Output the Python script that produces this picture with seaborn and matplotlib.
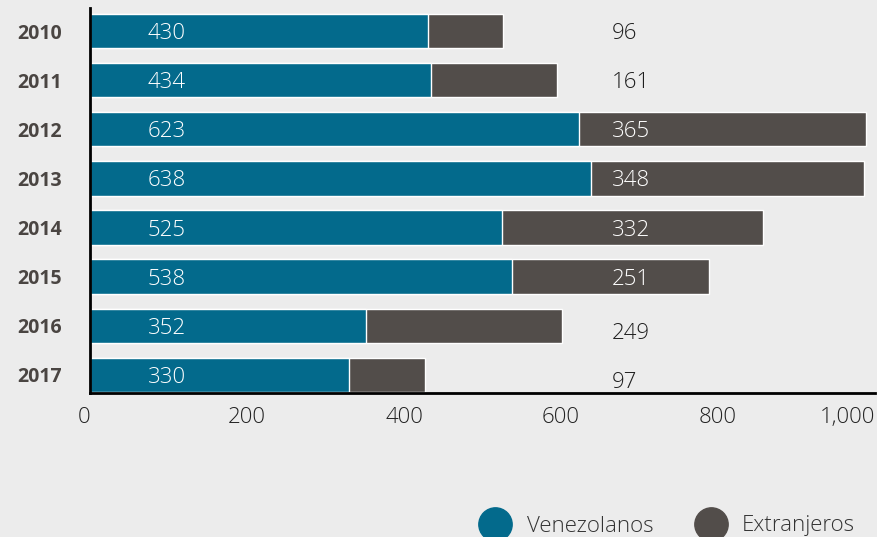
import matplotlib
matplotlib.use("Agg")
import matplotlib.pyplot as plt
from matplotlib.lines import Line2D
from matplotlib.ticker import FuncFormatter
import seaborn as sns

years = ["2010", "2011", "2012", "2013", "2014", "2015", "2016", "2017"]
venezolanos = [430, 434, 623, 638, 525, 538, 352, 330]
extranjeros = [96, 161, 365, 348, 332, 251, 249, 97]

TEAL = "#036a8c"
GRAY = "#524d4a"
BG = "#ececec"


def main():
    sns.set_style("white")
    plt.rcParams["font.family"] = ["Open Sans", "DejaVu Sans"]

    fig = plt.figure(figsize=(8.77, 5.37), dpi=100, facecolor=BG)
    ax = fig.add_axes([90 / 877, 144 / 537, 785 / 877, 385 / 537])
    ax.set_facecolor(BG)

    totals = [v + e for v, e in zip(venezolanos, extranjeros)]
    sns.barplot(x=totals, y=years, orient="h", color=GRAY, saturation=1,
                width=0.7, edgecolor="white", linewidth=1, ax=ax)
    sns.barplot(x=venezolanos, y=years, orient="h", color=TEAL, saturation=1,
                width=0.7, edgecolor="white", linewidth=1, ax=ax)

    for i, (v, e, t) in enumerate(zip(venezolanos, extranjeros, totals)):
        ax.text(98, i, str(v), ha="center", va="center_baseline",
                color="white", fontsize=16, fontweight="light")
        inside = t > 700
        ax.text(665, i + (0 if inside or i < 6 else 0.1), str(e), ha="left",
                va="center_baseline",
                color="white" if inside else "#1e1e1e",
                fontsize=16, fontweight="light")

    ax.set_xlim(0, 1000)
    ax.set_ylim(7.37, -0.47)
    ax.set_xticks([0, 200, 400, 600, 800, 1000])
    ax.xaxis.set_major_formatter(FuncFormatter(lambda x, _: f"{int(x):,}"))
    ax.tick_params(axis="x", direction="in", length=6, width=2, color="black",
                   labelsize=16, labelcolor="#222222", pad=10)
    ax.tick_params(axis="y", direction="in", length=13, width=2, color="black",
                   labelsize=14, labelcolor="#4a4542", pad=20)
    for lab in ax.get_xticklabels():
        lab.set_fontweight("light")
    ax.get_xticklabels()[0].set_horizontalalignment("right")
    ax.get_xticklabels()[-1].set_horizontalalignment("right")
    for lab in ax.get_yticklabels():
        lab.set_fontweight("bold")
    ax.set_xlabel("")
    ax.set_ylabel("")

    for side in ["top", "right"]:
        ax.spines[side].set_visible(False)
    for side in ["left", "bottom"]:
        ax.spines[side].set_color("black")
        ax.spines[side].set_linewidth(2)
    ax.spines["bottom"].set_bounds(0, 1000)

    handles = [
        Line2D([], [], marker="o", linestyle="", markersize=24,
               markerfacecolor=TEAL, markeredgecolor=TEAL, label="Venezolanos"),
        Line2D([], [], marker="o", linestyle="", markersize=24,
               markerfacecolor=GRAY, markeredgecolor=GRAY, label="Extranjeros"),
    ]
    leg = fig.legend(handles=handles, loc="center right",
                     bbox_to_anchor=(0.998, 11 / 537), ncol=2, frameon=False,
                     fontsize=16, handletextpad=0.4, columnspacing=1.6,
                     labelcolor="#333333")
    for t in leg.get_texts():
        t.set_fontweight("light")

    fig.savefig("out.png", dpi=100, facecolor=BG)


if __name__ == "__main__":
    main()
